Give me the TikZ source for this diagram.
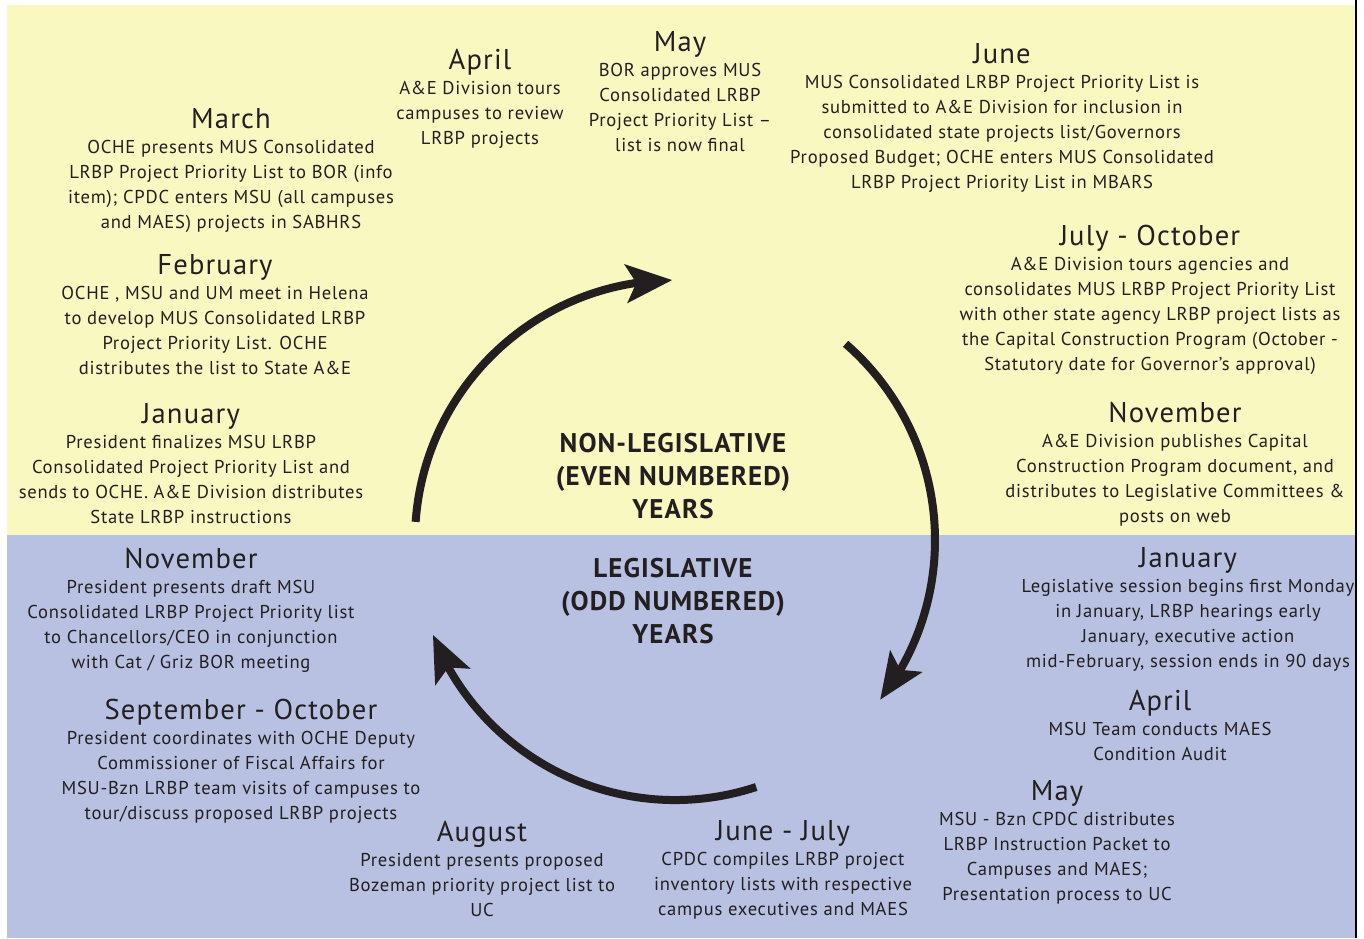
\documentclass[tikz,border=0pt]{standalone}
\usepackage{fontspec}
\setmainfont{PT Sans}[LetterSpace=4]
\usetikzlibrary{arrows.meta,bending}

\definecolor{evenyr}{HTML}{FAF8C1}
\definecolor{oddyr}{HTML}{B8C1E2}
\definecolor{ink}{HTML}{231F20}

\newcommand{\mon}[1]{{\fontsize{14.3}{12.5}\selectfont #1}\\}

\begin{document}
\begin{tikzpicture}[x=0.5pt, y=-0.5pt,
  evt/.style={anchor=north, align=center, inner sep=0pt, text=ink, font=\fontsize{9.3}{12.5}\selectfont},
  yrs/.style={align=center, inner sep=0pt, text=ink, font=\bfseries\fontsize{13.5}{16.5}\selectfont},
  cyc/.style={line width=4pt, draw=ink, -{Stealth[length=23pt, width=19pt, inset=5pt]}}]

\useasboundingbox (0,0) rectangle (1364,938);

% even and odd years
\fill[evenyr] (7,5) rectangle (1356,535);
\fill[oddyr] (7,535) rectangle (1356,938);


\node[evt] (marE) at (231,108.5) {\mon{March}OCHE presents MUS Consolidated\\LRBP Project Priority List to BOR (info\\item); CPDC enters MSU (all campuses\\and MAES) projects in SABHRS};
\node[evt] (aprE) at (480,48.5) {\mon{April}A\&E Division tours\\campuses to review\\LRBP projects};
\node[evt] (mayE) at (680,31.5) {\mon{May}BOR approves MUS\\Consolidated LRBP\\Project Priority List –\\list is now final};
\node[evt] (junE) at (1002,43.5) {\mon{June}MUS Consolidated LRBP Project Priority List is\\submitted to A\&E Division for inclusion in\\consolidated state projects list/Governors\\Proposed Budget; OCHE enters MUS Consolidated\\LRBP Project Priority List in MBARS};
\node[evt] (febE) at (215,254.5) {\mon{February}OCHE , MSU and UM meet in Helena\\to develop MUS Consolidated LRBP\\Project Priority List. OCHE\\distributes the list to State A\&E};
\node[evt] (janE) at (191,403.5) {\mon{January}President finalizes MSU LRBP\\Consolidated Project Priority List and\\sends to OCHE. A\&E Division distributes\\State LRBP instructions};
\node[evt] (julE) at (1150,224.5) {\mon{July - October}A\&E Division tours agencies and\\consolidates MUS LRBP Project Priority List\\with other state agency LRBP project lists as\\the Capital Construction Program (October -\\Statutory date for Governor’s approval)};
\node[evt] (novE) at (1175,401.5) {\mon{November}A\&E Division publishes Capital\\Construction Program document, and\\distributes to Legislative Committees \&\\posts on web};


\node[evt] (novO) at (191,547.5) {\mon{November}President presents draft MSU\\Consolidated LRBP Project Priority list\\to Chancellors/CEO in conjunction\\with Cat / Griz BOR meeting};
\node[evt] (sepO) at (241,698.5) {\mon{September - October}President coordinates with OCHE Deputy\\Commissioner of Fiscal Affairs for\\MSU-Bzn LRBP team visits of campuses to\\tour/discuss proposed LRBP projects};
\node[evt] (augO) at (482,820.5) {\mon{August}President presents proposed\\Bozeman priority project list to\\UC};
\node[evt] (junO) at (783,820.5) {\mon{June - July}CPDC compiles LRBP project\\inventory lists with respective\\campus executives and MAES};
\node[evt] (janO) at (1188,547.5) {\mon{January}Legislative session begins first Monday\\in January, LRBP hearings early\\January, executive action\\mid-February, session ends in 90 days};
\node[evt] (aprO) at (1160,689.5) {\mon{April}MSU Team conducts MAES\\Condition Audit};
\node[evt] (mayO) at (1057,780.5) {\mon{May}MSU - Bzn CPDC distributes\\LRBP Instruction Packet to\\Campuses and MAES;\\Presentation process to UC};


\node[yrs] (even) at (673,476) {NON-LEGISLATIVE\\(EVEN NUMBERED)\\YEARS};
\node[yrs] (odd) at (673,601) {LEGISLATIVE\\(ODD NUMBERED)\\YEARS};

% the yearly cycle
\coordinate (hub) at (675,540);
\draw[cyc] (hub) ++(-176:260) arc[start angle=-176, end angle=-90.6, radius=260];
\draw[cyc] (hub) ++(-49:260) arc[start angle=-49, end angle=37.9, radius=260];
\draw[cyc] (hub) ++(71.8:260) arc[start angle=71.8, end angle=158.6, radius=260];

\draw[black, line width=1.25pt] (1356,0) -- (1356,938);

\end{tikzpicture}
\end{document}
